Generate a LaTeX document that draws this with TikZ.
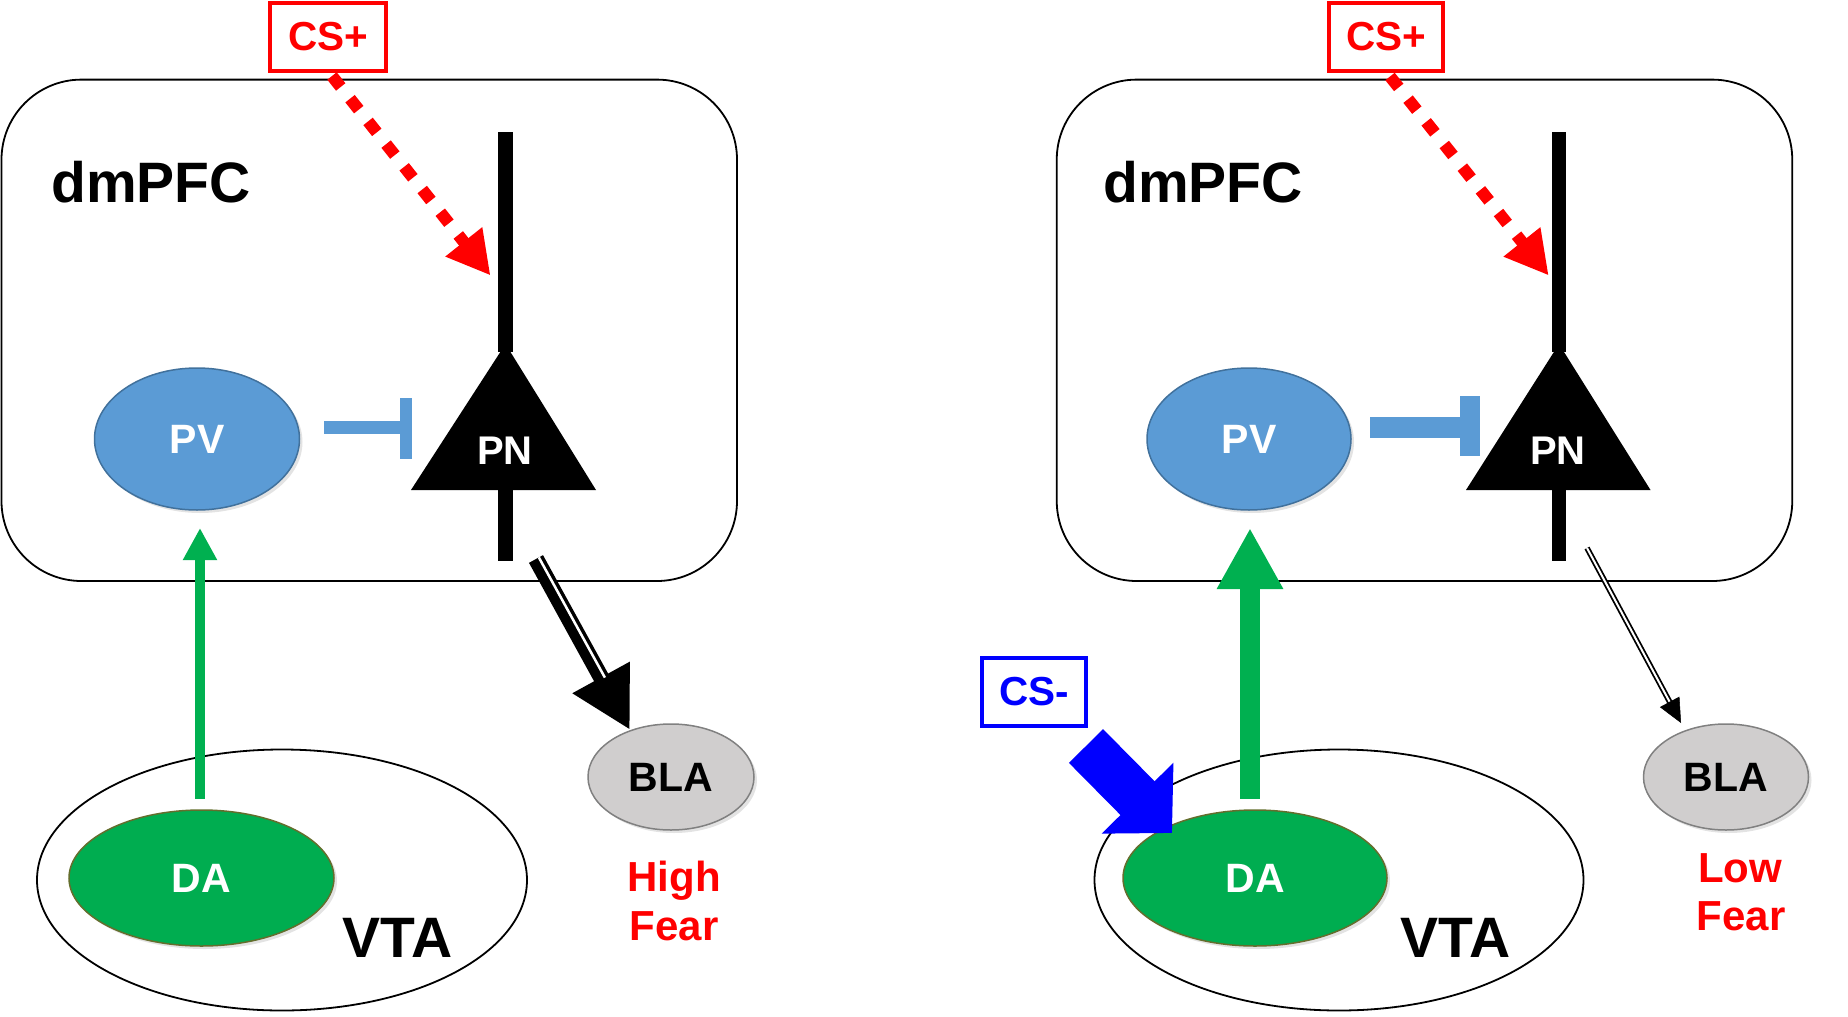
\documentclass[tikz,border=0pt]{standalone}
\usepackage{fontspec}
\setmainfont{Liberation Sans}
\usetikzlibrary{arrows.meta,shapes.geometric,shadows,calc}
\definecolor{pvblue}{RGB}{91,155,213}
\definecolor{pvedge}{RGB}{65,113,156}
\definecolor{dagreen}{RGB}{0,173,80}
\definecolor{daedge}{RGB}{100,110,45}
\definecolor{arrgreen}{RGB}{0,176,80}
\definecolor{blagray}{RGB}{208,206,206}
\definecolor{blaedge}{RGB}{128,128,128}
\definecolor{csred}{RGB}{255,0,0}
\definecolor{csblue}{RGB}{0,0,255}
\begin{document}
\begin{tikzpicture}[x=1pt,y=-1pt,
  region/.style={draw=black, line width=1.8pt, rounded corners=80pt, inner sep=0pt},
  vtaregion/.style={ellipse, draw=black, line width=1.8pt, inner sep=0pt, minimum width=490pt, minimum height=261pt},
  cellshadow/.style={drop shadow={opacity=0.22, shadow xshift=3pt, shadow yshift=-3pt}},
  cell/.style={ellipse, inner sep=0pt, line width=1.5pt, cellshadow, font=\bfseries\fontsize{41}{49}\selectfont},
  pvcell/.style={cell, fill=pvblue, draw=pvedge, text=white, minimum width=205pt, minimum height=142pt},
  dacell/.style={cell, fill=dagreen, draw=daedge, text=white, minimum width=265pt, minimum height=136pt},
  blacell/.style={cell, fill=blagray, draw=blaedge, text=black, minimum width=166pt, minimum height=106pt},
  bigtext/.style={font=\bfseries\fontsize{57}{60}\selectfont, inner sep=0pt},
  feartext/.style={font=\bfseries\fontsize{42}{50}\selectfont, text=csred, inner sep=0pt, anchor=base},
  csbox/.style={draw, line width=4pt, inner sep=0pt, minimum height=68pt, font=\bfseries\fontsize{40.5}{48}\selectfont},
  pntext/.style={font=\bfseries\fontsize{40}{48}\selectfont, text=white, inner sep=0pt},
  neuronline/.style={line width=14.5pt, black},
  redarrow/.style={csred, line width=12pt, dash pattern=on 14pt off 15pt, -{Triangle[length=43pt,width=44pt]}},
]
\useasboundingbox (0,0) rectangle (1848,1017);

% ================= LEFT PANEL =================
\node[region, minimum width=735.5pt, minimum height=501.4pt] (pfcL) at (369.25,330.3) {};
\node[bigtext, anchor=base west] (pfcLtxt) at (51,202) {dmPFC};
\node[csbox, draw=csred, text=csred, minimum width=116pt] (csL) at (328,37) {CS+};

% PN neuron
\coordinate (denLt) at (505.5,132);
\coordinate (denLb) at (505.5,352);
\coordinate (axLt) at (505.5,482);
\coordinate (axLb) at (505.5,560.6);
\draw[neuronline] (denLt) -- (denLb);
\draw[neuronline] (axLt) -- (axLb);
\fill[black] (505.5,344) -- (596,490) -- (411,490) -- cycle;
\node[pntext] (pnL) at (505,451) {PN};

% PV
\node[pvcell] (pvL) at (197,439) {PV};
\coordinate (inhLs) at (324,427.3);
\coordinate (inhLe) at (401,427.3);
\coordinate (barLt) at (406,398);
\coordinate (barLb) at (406,458.5);
\draw[pvblue, line width=12.6pt] (inhLs) -- (inhLe);
\draw[pvblue, line width=12pt] (barLt) -- (barLb);

% CS+ arrow
\coordinate (redLs) at (332,76);
\coordinate (redLt) at (490.5,275.5);
\draw[redarrow] (redLs) -- (redLt);

% VTA and DA
\node[vtaregion] (vtaL) at (282,880) {};
\node[dacell] (daL) at (201.5,878) {DA};
\node[bigtext, anchor=base] (vtaLtxt) at (397.5,957) {VTA};

% green arrow DA -> PV
\coordinate (gLs) at (200,798.7);
\coordinate (gLt) at (200,528);
\draw[arrgreen, line width=10.6pt, -{Triangle[length=32pt,width=32pt]}] (gLs) -- (gLt);

% BLA
\node[blacell] (blaL) at (671,777) {BLA};
\node[feartext] (highL) at (674,891) {High};
\node[feartext] (fearL) at (674,940.6) {Fear};

% thick compound arrow PN -> BLA
\coordinate (bkLs) at (536,559);
\coordinate (bkLt) at (630,730);
\coordinate (bkLh) at ($(bkLt)!58pt!(bkLs)$);
\draw[black, line width=16pt, -{Triangle[length=60pt,width=61pt]}] (bkLs) -- (bkLt);
\draw[white, line width=2.5pt] ($(bkLs)!3.25pt!90:(bkLt)$) -- ($(bkLh)!3.25pt!90:(bkLt)$);

% ================= RIGHT PANEL =================
\node[region, minimum width=735.5pt, minimum height=501.4pt] (pfcR) at (1424.5,330.3) {};
\node[bigtext, anchor=base west] (pfcRtxt) at (1103,202) {dmPFC};
\node[csbox, draw=csred, text=csred, minimum width=114pt] (csR) at (1386,37) {CS+};

% PN neuron
\coordinate (denRt) at (1559,132);
\coordinate (denRb) at (1559,352);
\coordinate (axRt) at (1559,482);
\coordinate (axRb) at (1559,560.6);
\draw[neuronline] (denRt) -- (denRb);
\draw[neuronline] (axRt) -- (axRb);
\fill[black] (1559,344) -- (1650.5,490) -- (1466,490) -- cycle;
\node[pntext] (pnR) at (1558,451) {PN};

% PV
\node[pvcell, minimum width=204pt] (pvR) at (1249,439) {PV};
\coordinate (inhRs) at (1370,427.5);
\coordinate (inhRe) at (1461,427.5);
\coordinate (barRt) at (1470,396);
\coordinate (barRb) at (1470,456);
\draw[pvblue, line width=21pt] (inhRs) -- (inhRe);
\draw[pvblue, line width=20pt] (barRt) -- (barRb);

% CS+ arrow
\coordinate (redRs) at (1390,76.5);
\coordinate (redRt) at (1548.7,275.5);
\draw[redarrow] (redRs) -- (redRt);

% VTA and DA
\node[vtaregion, minimum width=489pt] (vtaR) at (1339,880) {};
\node[dacell, minimum width=264pt] (daR) at (1255,878) {DA};
\node[bigtext, anchor=base] (vtaRtxt) at (1455.6,957) {VTA};

% green arrow DA -> PV (strong)
\coordinate (gRs) at (1250,798.7);
\coordinate (gRt) at (1250,528);
\draw[arrgreen, line width=20pt, -{Triangle[length=61pt,width=62pt]}] (gRs) -- (gRt);

% CS- box and arrow
\node[csbox, draw=csblue, text=csblue, minimum width=104pt] (csm) at (1034,692) {CS-};
\coordinate (blRs) at (1086,746);
\coordinate (blRt) at (1172,833);
\draw[csblue, line width=48pt, -{Triangle[length=49pt,width=98pt]}] (blRs) -- (blRt);

% BLA
\node[blacell, minimum width=165pt] (blaR) at (1726,777) {BLA};
\node[feartext] (lowR) at (1740,882) {Low};
\node[feartext] (fearR) at (1741,930.7) {Fear};

% thin double arrow PN -> BLA
\coordinate (thRs) at (1587,548);
\coordinate (thRt) at (1681,723);
\coordinate (thRh) at ($(thRt)!22pt!(thRs)$);
\coordinate (thRb) at ($(thRt)!24pt!(thRs)$);
\draw[black, double=white, double distance=2pt, line width=1.8pt] (thRs) -- (thRh);
\draw[black, line width=0.5pt, -{Triangle[length=24pt,width=22pt]}] (thRb) -- (thRt);
\end{tikzpicture}
\end{document}
